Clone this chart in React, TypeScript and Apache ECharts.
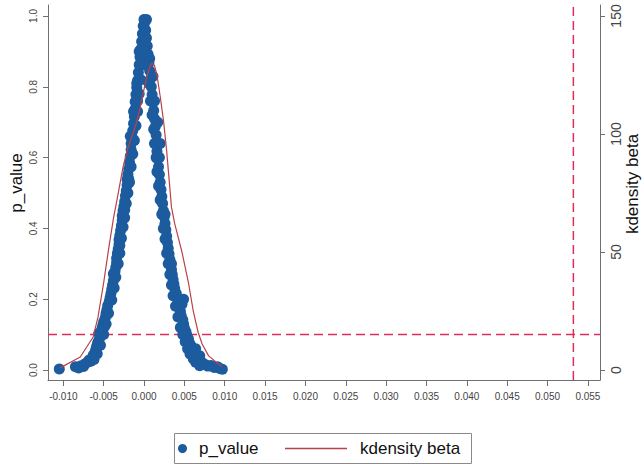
import React, { useEffect, useRef } from "react";
import * as echarts from "echarts";

// ---- data ----
const xTicks = [-0.01, -0.005, 0.0, 0.005, 0.01, 0.015, 0.02, 0.025, 0.03, 0.035, 0.04, 0.045, 0.05, 0.055];
const pTicks = [0, 0.2, 0.4, 0.6, 0.8, 1.0];
const densTicks = [0, 50, 100, 150];
const pThreshold = 0.1;
const trueBeta = 0.0532;
const xRange = [-0.0119, 0.0565];
const pRange = [-0.0282, 1.031];
const densRange = [-4.23, 154.65];

// placebo estimates: [beta, p_value], left side of the peak
const leftBranch: [number, number][] = [
  [-0.0105, 0.003], [-0.0085, 0.009], [-0.0081, 0.006], [-0.0078, 0.012], [-0.0075, 0.010],
  [-0.0073, 0.018], [-0.0070, 0.022], [-0.0068, 0.028], [-0.0066, 0.025], [-0.0064, 0.034],
  [-0.0063, 0.042], [-0.0061, 0.048], [-0.0060, 0.056], [-0.0059, 0.064], [-0.0058, 0.072],
  [-0.0057, 0.080], [-0.0055, 0.090], [-0.0054, 0.099], [-0.0053, 0.108], [-0.0052, 0.118],
  [-0.0051, 0.127], [-0.0050, 0.136], [-0.0048, 0.148], [-0.0047, 0.160], [-0.0046, 0.170],
  [-0.0045, 0.182], [-0.0043, 0.194], [-0.0042, 0.205], [-0.0041, 0.216], [-0.0040, 0.228],
  [-0.0039, 0.240], [-0.0038, 0.252], [-0.0037, 0.264], [-0.0036, 0.278], [-0.0035, 0.290],
  [-0.0034, 0.303], [-0.0034, 0.316], [-0.0033, 0.330], [-0.0032, 0.342], [-0.0031, 0.355],
  [-0.0031, 0.368], [-0.0030, 0.380], [-0.0029, 0.394], [-0.0028, 0.408], [-0.0027, 0.422],
  [-0.0027, 0.436], [-0.0026, 0.449], [-0.0025, 0.462], [-0.0024, 0.476], [-0.0023, 0.492],
  [-0.0022, 0.506], [-0.0021, 0.522], [-0.0021, 0.538], [-0.0020, 0.552], [-0.0019, 0.568],
  [-0.0018, 0.586], [-0.0017, 0.604], [-0.0016, 0.622], [-0.0016, 0.640], [-0.0015, 0.658],
  [-0.0014, 0.676], [-0.0013, 0.696], [-0.0012, 0.716], [-0.0011, 0.738], [-0.0011, 0.758],
  [-0.0010, 0.778], [-0.0009, 0.798], [-0.0008, 0.818], [-0.0007, 0.840], [-0.0006, 0.862],
  [-0.0005, 0.884], [-0.0004, 0.906], [-0.0003, 0.928], [-0.0002, 0.950], [-0.0001, 0.972],
  [0.0000, 0.990], [-0.0038, 0.272], [-0.0030, 0.352], [-0.0024, 0.452], [-0.0019, 0.540],
  [-0.0013, 0.650], [-0.0008, 0.760], [-0.0004, 0.860], [-0.0001, 0.930], [-0.0056, 0.104],
  [-0.0049, 0.122], [-0.0062, 0.030], [-0.0058, 0.046], [-0.0054, 0.070], [-0.0050, 0.100],
  [-0.0047, 0.130], [-0.0044, 0.160], [-0.0040, 0.198], [-0.0037, 0.232], [-0.0035, 0.262],
  [-0.0032, 0.300], [-0.0030, 0.330], [-0.0028, 0.372], [-0.0026, 0.404], [-0.0024, 0.430],
  [-0.0022, 0.470], [-0.0020, 0.500], [-0.0018, 0.530], [-0.0016, 0.574], [-0.0014, 0.610],
  [-0.0012, 0.648], [-0.0010, 0.690], [-0.0008, 0.730], [-0.0006, 0.780], [-0.0004, 0.820],
  [-0.0002, 0.880], [0.0000, 0.940], [-0.0017, 0.660], [-0.0013, 0.730], [-0.0009, 0.810],
  [-0.0006, 0.900],
];

// placebo estimates: [beta, p_value], right side of the peak
const rightBranch: [number, number][] = [
  [0.0001, 0.982], [0.0002, 0.960], [0.0003, 0.938], [0.0004, 0.915], [0.0005, 0.892],
  [0.0006, 0.868], [0.0007, 0.845], [0.0008, 0.822], [0.0009, 0.800], [0.0010, 0.778],
  [0.0011, 0.756], [0.0012, 0.733], [0.0013, 0.710], [0.0014, 0.688], [0.0015, 0.664],
  [0.0016, 0.640], [0.0016, 0.618], [0.0017, 0.596], [0.0018, 0.574], [0.0019, 0.552],
  [0.0020, 0.530], [0.0021, 0.510], [0.0022, 0.490], [0.0023, 0.470], [0.0024, 0.450],
  [0.0025, 0.432], [0.0026, 0.414], [0.0027, 0.396], [0.0028, 0.378], [0.0029, 0.360],
  [0.0030, 0.344], [0.0031, 0.328], [0.0032, 0.312], [0.0033, 0.298], [0.0034, 0.284],
  [0.0035, 0.270], [0.0036, 0.256], [0.0037, 0.243], [0.0038, 0.230], [0.0040, 0.216],
  [0.0041, 0.203], [0.0042, 0.190], [0.0044, 0.178], [0.0045, 0.166], [0.0046, 0.154],
  [0.0048, 0.142], [0.0049, 0.130], [0.0050, 0.119], [0.0052, 0.108], [0.0053, 0.098],
  [0.0055, 0.088], [0.0056, 0.078], [0.0058, 0.069], [0.0059, 0.060], [0.0061, 0.052],
  [0.0063, 0.045], [0.0065, 0.038], [0.0067, 0.031], [0.0070, 0.025], [0.0073, 0.019],
  [0.0076, 0.015], [0.0079, 0.011], [0.0083, 0.013], [0.0087, 0.007], [0.0091, 0.009],
  [0.0094, 0.004], [0.0097, 0.002], [0.0049, 0.200], [0.0047, 0.186], [0.0064, 0.060],
  [0.0069, 0.040], [0.0034, 0.300], [0.0026, 0.440], [0.0019, 0.600], [0.0013, 0.760],
  [0.0007, 0.880], [0.0003, 0.990], [0.0002, 0.920], [0.0004, 0.860], [0.0006, 0.810],
  [0.0008, 0.760], [0.0010, 0.720], [0.0012, 0.680], [0.0013, 0.640], [0.0015, 0.600],
  [0.0016, 0.560], [0.0018, 0.520], [0.0020, 0.480], [0.0022, 0.440], [0.0024, 0.400],
  [0.0026, 0.370], [0.0028, 0.330], [0.0030, 0.300], [0.0032, 0.270], [0.0034, 0.240],
  [0.0036, 0.210], [0.0039, 0.180], [0.0042, 0.150], [0.0045, 0.120], [0.0048, 0.100],
  [0.0051, 0.080], [0.0054, 0.060], [0.0057, 0.045], [0.0061, 0.032], [0.0064, 0.022],
  [0.0069, 0.012], [0.0020, 0.640], [0.0017, 0.700], [0.0011, 0.830],
];

// kernel density of beta: [beta, density]
const kdensity: [number, number][] = [
  [-0.0104, 0.9], [-0.0079, 5.5], [-0.0063, 14], [-0.0057, 22.5], [-0.0050, 37],
  [-0.0044, 51], [-0.0038, 64], [-0.0033, 73], [-0.0026, 86], [-0.0021, 93],
  [-0.0015, 99], [-0.0010, 104], [-0.0005, 111], [0.0000, 119], [0.0004, 125],
  [0.0008, 129], [0.0010, 130], [0.0013, 129], [0.0016, 125], [0.0020, 116],
  [0.0024, 106], [0.0028, 93], [0.0031, 81], [0.0034, 69], [0.0038, 62],
  [0.0047, 50], [0.0055, 37], [0.0061, 25], [0.0067, 16], [0.0072, 11],
  [0.0080, 6], [0.0096, 1.5],
];

const FONT = "'Liberation Sans', Arial, Helvetica, sans-serif";
const AXIS_COLOR = "#6f6f6f";
const LABEL_COLOR = "#444";
const BLUE = "#1C5C9E";
const DENS_RED = "#B9424A";
const DASH_RED = "#E02C5A";

export default function App() {
  const ref = useRef<HTMLDivElement>(null);
  useEffect(() => {
    const chart = echarts.init(ref.current!, null, { renderer: "svg" });
    const dashStyle = { color: DASH_RED, type: [9, 5], width: 1.5 };
    chart.setOption({
      animation: false,
      backgroundColor: "#ffffff",
      textStyle: { fontFamily: FONT },
      grid: { left: 48, right: 44, top: 5, bottom: 86, containLabel: false },
      xAxis: {
        type: "value",
        min: xRange[0],
        max: xRange[1],
        splitLine: { show: false },
        axisLine: { show: true, onZero: false, lineStyle: { color: AXIS_COLOR, width: 1 } },
        axisTick: { show: true, customValues: xTicks, length: 6, lineStyle: { color: AXIS_COLOR } },
        axisLabel: {
          customValues: xTicks,
          formatter: (v: number) => v.toFixed(3),
          fontSize: 10,
          color: LABEL_COLOR,
          margin: 11,
          fontFamily: FONT,
        },
      },
      yAxis: [
        {
          type: "value",
          position: "left",
          min: pRange[0],
          max: pRange[1],
          splitLine: { show: false },
          axisLine: { show: true, onZero: false, lineStyle: { color: AXIS_COLOR, width: 1 } },
          axisTick: { show: true, customValues: pTicks, length: 5, lineStyle: { color: AXIS_COLOR } },
          axisLabel: {
            customValues: pTicks,
            formatter: (v: number) => v.toFixed(1),
            rotate: 90,
            fontSize: 10,
            color: LABEL_COLOR,
            margin: 10,
            fontFamily: FONT,
          },
        },
        {
          type: "value",
          position: "right",
          min: densRange[0],
          max: densRange[1],
          splitLine: { show: false },
          axisLine: { show: true, onZero: false, lineStyle: { color: AXIS_COLOR, width: 1 } },
          axisTick: { show: true, customValues: densTicks, length: 5, lineStyle: { color: AXIS_COLOR } },
          axisLabel: {
            customValues: densTicks,
            formatter: (v: number) => String(v),
            rotate: 90,
            fontSize: 14,
            color: LABEL_COLOR,
            margin: 9,
            fontFamily: FONT,
          },
        },
      ],
      legend: [
        {
          data: ["p_value"],
          left: 173,
          top: 435,
          icon: "circle",
          itemWidth: 9,
          itemHeight: 9,
          textStyle: { fontSize: 17, color: "#111", fontFamily: FONT, padding: [0, 0, 0, 7] },
        },
        {
          data: ["kdensity beta"],
          left: 280,
          top: 435,
          icon: "rect",
          itemWidth: 62,
          itemHeight: 1.3,
          textStyle: { fontSize: 17, color: "#111", fontFamily: FONT, padding: [0, 0, 0, 8] },
        },
      ],
      graphic: [
        {
          type: "rect",
          shape: { x: 174.5, y: 433.5, width: 297, height: 30 },
          style: { fill: "none", stroke: "#8a8a8a", lineWidth: 1 },
          silent: true,
        },
        {
          type: "text",
          x: 16,
          y: 183,
          rotation: Math.PI / 2,
          style: {
            text: "p_value",
            fontSize: 17,
            fontFamily: FONT,
            fill: "#111",
            align: "center",
            verticalAlign: "middle",
          },
        },
        {
          type: "text",
          x: 632,
          y: 184,
          rotation: Math.PI / 2,
          style: {
            text: "kdensity beta",
            fontSize: 17,
            fontFamily: FONT,
            fill: "#111",
            align: "center",
            verticalAlign: "middle",
          },
        },
      ],
      series: [
        {
          name: "threshold",
          type: "line",
          z: 1,
          symbol: "none",
          lineStyle: dashStyle,
          data: [
            [xRange[0], pThreshold],
            [xRange[1], pThreshold],
          ],
        },
        {
          name: "true beta",
          type: "line",
          z: 1,
          symbol: "none",
          lineStyle: dashStyle,
          data: [
            [trueBeta, pRange[0]],
            [trueBeta, pRange[1]],
          ],
        },
        {
          name: "p_value",
          type: "scatter",
          z: 3,
          symbol: "circle",
          symbolSize: 11,
          itemStyle: { color: BLUE, opacity: 1 },
          data: [...leftBranch, ...rightBranch],
        },
        {
          name: "kdensity beta",
          type: "line",
          yAxisIndex: 1,
          z: 4,
          symbol: "none",
          smooth: false,
          lineStyle: { color: DENS_RED, width: 1.2 },
          itemStyle: { color: DENS_RED },
          data: kdensity,
        },
      ],
    });
    return () => chart.dispose();
  }, []);
  return (
    <div
      ref={ref}
      style={{ position: "fixed", left: 0, top: 0, width: 644, height: 466 }}
    />
  );
}
